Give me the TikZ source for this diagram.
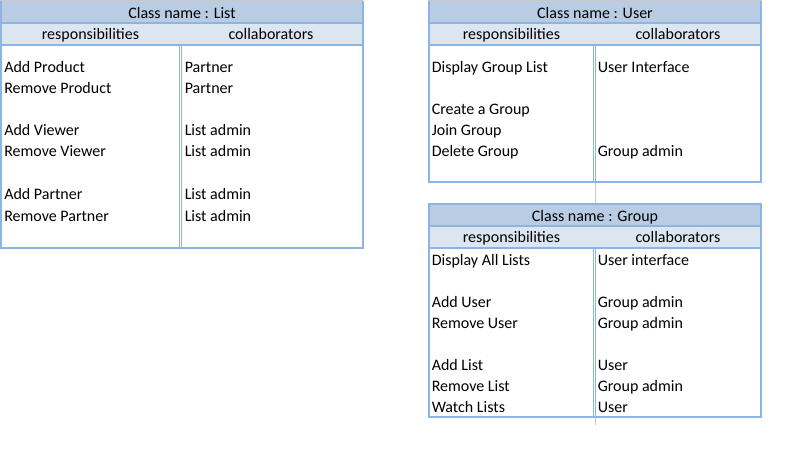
\documentclass[tikz,border=0pt]{standalone}
\usepackage{fontspec}
\setmainfont{Carlito}
\definecolor{titlefill}{HTML}{B8CCE4}
\definecolor{headfill}{HTML}{DCE6F1}
\definecolor{bord}{HTML}{8DB4E2}
\definecolor{grid}{HTML}{C8C8C8}
\begin{document}
\begin{tikzpicture}[x=0.75pt,y=-0.75pt,
  txt/.style={anchor=base west,inner sep=0pt,font=\fontsize{12}{14}\selectfont},
  ctr/.style={anchor=base,inner sep=0pt,font=\fontsize{12}{14}\selectfont},
  thick border/.style={draw=bord,line width=1.5pt},
  thin border/.style={draw=bord,line width=0.75pt},
  gridline/.style={draw=grid,line width=0.75pt}]
\useasboundingbox (0,0) rectangle (791,455);
\fill[white] (0,0) rectangle (791,455);
% ---------- List ----------
\fill[titlefill] (1,1) rectangle (363,23);
\fill[headfill] (1,23) rectangle (363,44.5);
\draw[gridline] (0,0.5) -- (363,0.5);
\draw[thick border] (1,0.5) -- (1,247.5) -- (363,247.5) -- (363,0.5);
\draw[thick border] (1,23) -- (363,23);
\draw[thick border] (1,44.5) -- (363,44.5);
\draw[thin border] (179.5,45) -- (179.5,247);
\draw[thin border] (181.5,45) -- (181.5,247);
\node[ctr] (lt) at (182,18) {Class name : List};
\node[ctr] (lh1) at (90.5,39.5) {responsibilities};
\node[ctr] (lh2) at (271,39.5) {collaborators};
\node[txt] (lr1) at (4,72) {Add Product};
\node[txt] (lr2) at (4,93) {Remove Product};
\node[txt] (lr3) at (4,135) {Add Viewer};
\node[txt] (lr4) at (4,156) {Remove Viewer};
\node[txt] (lr5) at (4,199) {Add Partner};
\node[txt] (lr6) at (4,221) {Remove Partner};
\node[txt] (lc1) at (184.5,72) {Partner};
\node[txt] (lc2) at (184.5,93) {Partner};
\node[txt] (lc3) at (184.5,135) {List admin};
\node[txt] (lc4) at (184.5,156) {List admin};
\node[txt] (lc5) at (184.5,199) {List admin};
\node[txt] (lc6) at (184.5,221) {List admin};
% ---------- User ----------
\fill[titlefill] (429,1) rectangle (761,23);
\fill[headfill] (429,23) rectangle (761,44.5);
\draw[gridline] (428,0.5) -- (762,0.5);
\draw[gridline] (595,182) -- (595,204);
\draw[gridline] (595,416) -- (595,425);
\draw[thick border] (429,0.5) -- (429,182) -- (761,182) -- (761,0.5);
\draw[thick border] (429,23) -- (761,23);
\draw[thick border] (429,44.5) -- (761,44.5);
\draw[thin border] (593.5,45) -- (593.5,181.5);
\draw[thin border] (595.5,45) -- (595.5,181.5);
\node[ctr] (ut) at (595,18) {Class name : User};
\node[ctr] (uh1) at (511.5,39.5) {responsibilities};
\node[ctr] (uh2) at (678,39.5) {collaborators};
\node[txt] (ur1) at (431.5,72) {Display Group List};
\node[txt] (ur2) at (431.5,114) {Create a Group};
\node[txt] (ur3) at (431.5,135) {Join Group};
\node[txt] (ur4) at (431.5,156) {Delete Group};
\node[txt] (uc1) at (597.5,72) {User Interface};
\node[txt] (uc4) at (597.5,156) {Group admin};
% ---------- Group ----------
\fill[titlefill] (429,204) rectangle (761,226);
\fill[headfill] (429,226) rectangle (761,247.5);
\draw[thick border] (429,204) rectangle (761,416.5);
\draw[thick border] (429,226) -- (761,226);
\draw[thick border] (429,247.5) -- (761,247.5);
\draw[thin border] (593.5,248) -- (593.5,416);
\draw[thin border] (595.5,248) -- (595.5,416);
\node[ctr] (gt) at (595,221) {Class name : Group};
\node[ctr] (gh1) at (511.5,242.5) {responsibilities};
\node[ctr] (gh2) at (678,242.5) {collaborators};
\node[txt] (gr1) at (431.5,265) {Display All Lists};
\node[txt] (gr2) at (431.5,307) {Add User};
\node[txt] (gr3) at (431.5,328) {Remove User};
\node[txt] (gr4) at (431.5,370) {Add List};
\node[txt] (gr5) at (431.5,391) {Remove List};
\node[txt] (gr6) at (431.5,412) {Watch Lists};
\node[txt] (gc1) at (597.5,265) {User interface};
\node[txt] (gc2) at (597.5,307) {Group admin};
\node[txt] (gc3) at (597.5,328) {Group admin};
\node[txt] (gc4) at (597.5,370) {User};
\node[txt] (gc5) at (597.5,391) {Group admin};
\node[txt] (gc6) at (597.5,412) {User};
\end{tikzpicture}
\end{document}
